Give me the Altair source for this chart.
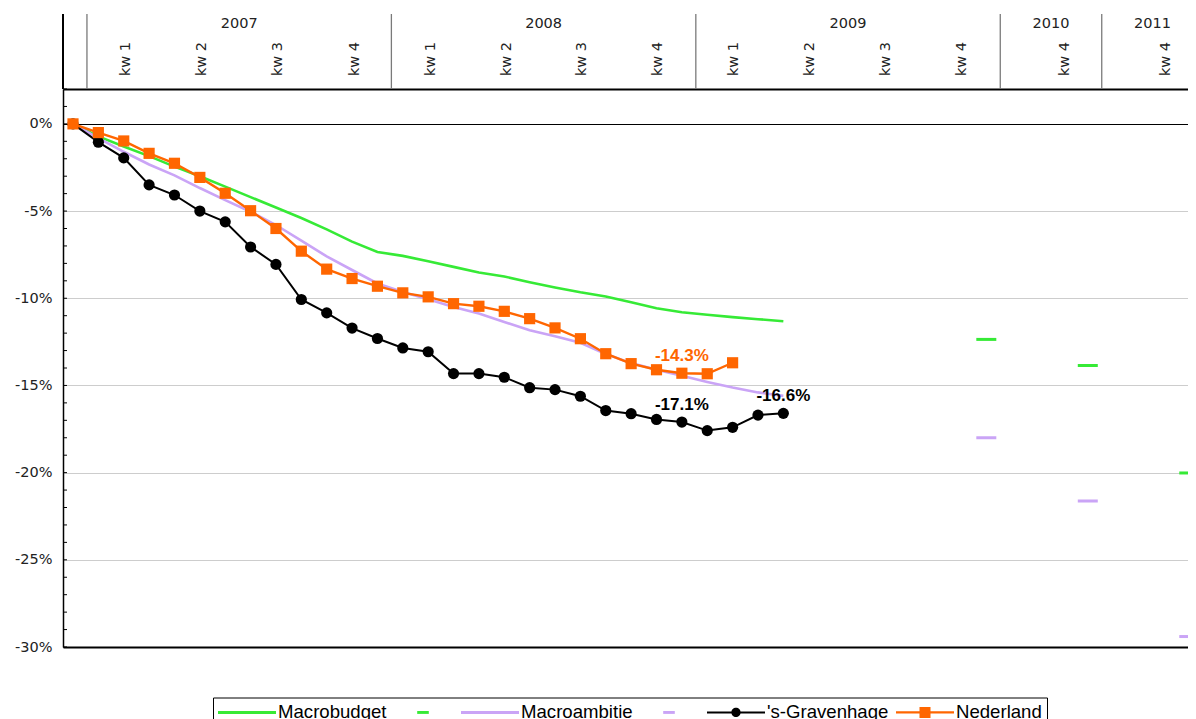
import altair as alt
import pandas as pd

# ---------------- data ----------------
month_idx = list(range(29))  # 0 = start (Dec 2006), 1..12 = 2007, 13..24 = 2008, 25..28 = 2009
macrobudget = [0, -0.72, -1.30, -1.85, -2.45, -3.00, -3.60, -4.20, -4.80, -5.40, -6.05, -6.75,
               -7.35, -7.57, -7.88, -8.20, -8.52, -8.75, -9.08, -9.38, -9.66, -9.90, -10.23,
               -10.57, -10.80, -10.95, -11.08, -11.20, -11.32]
macroambitie = [0, -0.82, -1.60, -2.33, -2.95, -3.68, -4.37, -5.04, -5.80, -6.70, -7.60, -8.38,
                -9.15, -9.64, -10.06, -10.50, -10.88, -11.36, -11.84, -12.18, -12.55, -13.20,
                -13.72, -14.10, -14.45, -14.80, -15.12, -15.40, -15.60]
gravenhage = [0, -1.05, -1.95, -3.50, -4.08, -5.00, -5.62, -7.06, -8.06, -10.07, -10.84, -11.71,
              -12.31, -12.85, -13.07, -14.32, -14.32, -14.53, -15.13, -15.24, -15.62, -16.44,
              -16.62, -16.95, -17.10, -17.59, -17.40, -16.70, -16.60]
nederland = [0, -0.50, -0.98, -1.69, -2.26, -3.07, -3.98, -4.98, -6.00, -7.30, -8.33, -8.87,
             -9.31, -9.69, -9.92, -10.31, -10.46, -10.75, -11.17, -11.70, -12.32, -13.18,
             -13.75, -14.10, -14.30, -14.33, -13.70]

target_idx = [36, 40, 44]
budget_target = [-12.36, -13.85, -20.02]
ambitie_target = [-18.00, -21.63, -29.40]

label_series = ["Nederland", "'s-Gravenhage", "'s-Gravenhage"]
label_idx = [24, 24, 28]

years = ["2007", "2008", "2009", "2010", "2011"]
year_start = [0.55, 12.55, 24.55, 36.55, 40.55]
year_end = [12.55, 24.55, 36.55, 40.55, 44.55]
quarters = ["kw 1", "kw 2", "kw 3", "kw 4"] * 3 + ["kw 4", "kw 4"]
quarter_pos = [2.1, 5.1, 8.1, 11.1, 14.1, 17.1, 20.05, 23.05, 26.05, 29.05, 32.05, 35.05, 39.1, 43.1]

series_names = ["Macrobudget", "Macrobudget doel", "Macroambitie", "Macroambitie doel",
                "'s-Gravenhage", "Nederland"]
series_colors = ["#36ea36", "#36ea36", "#caa4f6", "#caa4f6", "#000000", "#ff6600"]
legend_paths = [
    "M-1,-0.05H1V0.05H-1Z",
    "M-0.2,-0.05H0.2V0.05H-0.2Z",
    "M-1,-0.05H1V0.05H-1Z",
    "M-0.2,-0.05H0.2V0.05H-0.2Z",
    "M-1,-0.035H1V0.035H-1Z M0.16,0A0.16,0.16,0,1,1,-0.16,0A0.16,0.16,0,1,1,0.16,0Z",
    "M-1,-0.04H1V0.04H-1Z M-0.19,-0.19H0.19V0.19H-0.19Z",
]

# ---------------- tables ----------------
def series_df(name, values):
    return pd.DataFrame({"i": month_idx[:len(values)], "v": values, "series": name})

df_budget = series_df("Macrobudget", macrobudget)
df_ambitie = series_df("Macroambitie", macroambitie)
df_haag = series_df("'s-Gravenhage", gravenhage)
df_ned = series_df("Nederland", nederland)
df_targets = pd.concat([
    pd.DataFrame({"i": target_idx, "v": budget_target, "series": "Macrobudget doel"}),
    pd.DataFrame({"i": target_idx, "v": ambitie_target, "series": "Macroambitie doel"}),
])
lookup = {"Nederland": nederland, "'s-Gravenhage": gravenhage}
df_labels = pd.DataFrame({
    "i": label_idx,
    "v": [lookup[s][k] for s, k in zip(label_series, label_idx)],
    "series": label_series,
})
df_labels["lab"] = df_labels["v"].map(lambda x: f"{x:.1f}%")
df_years = pd.DataFrame({"year": years, "s": year_start, "e": year_end})
df_quarters = pd.DataFrame({"q": quarters, "p": quarter_pos})
df_seps = pd.DataFrame({"p": year_start})
df_ticks = pd.DataFrame({"t": list(range(-30, 3))})
df_legend = pd.DataFrame({"series": series_names, "i": 0, "v": 50})

# ---------------- scales / axes ----------------
W, H = 1125, 558
xs = alt.Scale(domain=[-0.394, 43.95], nice=False, zero=False)
ys = alt.Scale(domain=[-30, 2], nice=False, zero=False)
cs = alt.Scale(domain=series_names, range=series_colors)
ss = alt.Scale(domain=series_names, range=legend_paths)

x_axis = alt.Axis(title=None, labels=False, ticks=False, grid=False,
                  domainColor="black", domainWidth=2)
y_axis = alt.Axis(
    title=None, values=[-30, -25, -20, -15, -10, -5, 0, 2],
    labelExpr="datum.value == 2 ? '' : datum.value + '%'",
    ticks=False, labelPadding=11, labelFont="DejaVu Sans", labelFontSize=14.5,
    labelColor="#222222", labelOverlap=False, domainColor="black", domainWidth=1.5,
    grid=True,
    gridColor={"condition": {"test": "datum.value >= 0", "value": "black"}, "value": "#cdcdcd"},
    gridWidth={"condition": {"test": "datum.value == 2", "value": 2}, "value": 1},
)

X = lambda f: alt.X(f, scale=xs, axis=x_axis)
Y = lambda f: alt.Y(f, scale=ys, axis=y_axis)
C = alt.Color("series:N", scale=cs, legend=None)

legend = alt.Legend(
    title=None, orient="none", legendX=150, legendY=608.5, direction="horizontal",
    columns=6, symbolSize=3364, symbolStrokeWidth=0, symbolOpacity=1, clipHeight=19,
    labelFont="Liberation Sans", labelFontSize=18.6, labelColor="black", labelOffset=2,
    labelLimit=400, columnPadding=7, padding=5, strokeColor="black", fillColor="white",
    labelExpr="indexof(datum.label, 'doel') >= 0 ? '' : datum.label",
)

# ---------------- layers ----------------
minor_ticks = alt.Chart(df_ticks).mark_tick(orient="horizontal", size=4, thickness=1,
                                              color="black", opacity=1).encode(
    x=alt.value(2), y=Y("t:Q"))

line_budget = alt.Chart(df_budget).mark_line(strokeWidth=2.6).encode(x=X("i:Q"), y=Y("v:Q"), color=C)
line_ambitie = alt.Chart(df_ambitie).mark_line(strokeWidth=2.6).encode(x=X("i:Q"), y=Y("v:Q"), color=C)
line_haag = alt.Chart(df_haag).mark_line(strokeWidth=2).encode(x=X("i:Q"), y=Y("v:Q"), color=C)
pts_haag = alt.Chart(df_haag).mark_point(shape="circle", filled=True, size=125, opacity=1).encode(
    x=X("i:Q"), y=Y("v:Q"), color=C)
line_ned = alt.Chart(df_ned).mark_line(strokeWidth=2.4).encode(x=X("i:Q"), y=Y("v:Q"), color=C)
pts_ned = alt.Chart(df_ned).mark_point(shape="square", filled=True, size=125, opacity=1).encode(
    x=X("i:Q"), y=Y("v:Q"), color=C)
targets = alt.Chart(df_targets).mark_tick(orient="horizontal", size=20, thickness=3,
                                          opacity=1, clip=True).encode(
    x=X("i:Q"), y=Y("v:Q"), color=C)
labels = alt.Chart(df_labels).mark_text(dy=-17, font="Liberation Sans", fontSize=17,
                                        fontWeight="bold").encode(
    x=X("i:Q"), y=Y("v:Q"), text="lab:N", color=C)

# header
left_edge = alt.Chart(df_seps).mark_rule(color="black", strokeWidth=1.5).encode(
    x=alt.value(0), y=alt.value(-75), y2=alt.value(0))
seps = alt.Chart(df_seps).mark_rule(color="#7a7a7a", strokeWidth=1.3).encode(
    x=X("p:Q"), y=alt.value(-75), y2=alt.value(0))
year_text = alt.Chart(df_years).transform_calculate(c="(datum.s + datum.e) / 2").mark_text(
    font="DejaVu Sans", fontSize=14.5, color="#222222", align="center", baseline="middle").encode(
    x=X("c:Q"), y=alt.value(-65), text="year:N")
quarter_text = alt.Chart(df_quarters).mark_text(
    font="DejaVu Sans", fontSize=14.5, color="#222222", angle=270, align="center",
    baseline="middle").encode(x=X("p:Q"), y=alt.value(-30), text="q:N")

legend_layer = alt.Chart(df_legend).mark_point(filled=True, opacity=1, clip=True, size=10).encode(
    x=X("i:Q"), y=Y("v:Q"),
    color=alt.Color("series:N", scale=cs, legend=legend),
    shape=alt.Shape("series:N", scale=ss, legend=legend),
)

chart = alt.layer(
    legend_layer, minor_ticks, line_budget, line_ambitie, targets, line_haag, pts_haag,
    line_ned, pts_ned, labels, left_edge, seps, year_text, quarter_text,
).resolve_legend(
    color="independent", shape="independent"
).properties(
    width=W, height=H,
    autosize=alt.AutoSizeParams(type="none"),
    padding={"left": 55, "top": 81, "right": 0, "bottom": 72},
).configure(background="white").configure_view(stroke=None)

chart.save("out.html", embed_options={"renderer": "svg", "actions": False})
